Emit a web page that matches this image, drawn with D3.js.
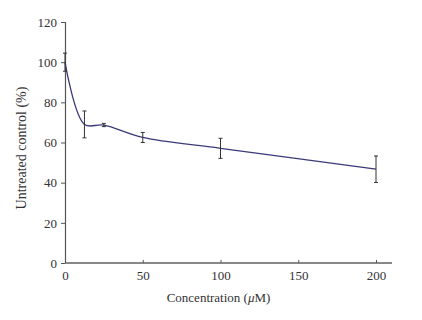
<!DOCTYPE html>
<html>
<head>
<meta charset="utf-8">
<script src="https://cdn.jsdelivr.net/npm/d3@7"></script>
<style>
  body { margin: 0; background: #fff; }
  text { font-family: "Liberation Serif", "DejaVu Serif", serif; fill: #333; }
</style>
</head>
<body>
<div id="chart"></div>
<script>
// dados
const concentrations = [0, 12.5, 25, 50, 100, 200];
const means = [100, 69.0, 68.7, 62.5, 57.1, 46.7];
const errors = [4.5, 6.7, 0.8, 2.5, 5.0, 6.6];
const xTicks = [0, 50, 100, 150, 200];
const yTicks = [0, 20, 40, 60, 80, 100, 120];

const margin = {top: 22, right: 30, bottom: 57, left: 65};
const width = 422 - margin.left - margin.right;
const height = 320 - margin.top - margin.bottom;

const svg = d3.select("#chart")
    .append("svg")
    .attr("width", 422)
    .attr("height", 320)
    .append("g")
    .attr("transform", `translate(${margin.left},${margin.top})`);

const xScale = d3.scaleLinear().domain([0, 200]).range([0, 311]);
const yScale = d3.scaleLinear().domain([0, 120]).range([height, 0]);

// eixo y
const yAxis = svg.append("g")
    .call(d3.axisLeft(yScale).tickValues(yTicks).tickSize(4).tickPadding(4));
yAxis.select(".domain").attr("stroke", "#555").attr("stroke-width", 1.2);
yAxis.selectAll(".tick line").attr("stroke", "#555");
yAxis.selectAll("text").style("font-size", "13px").attr("fill", "#333");

// eixo x
const xAxis = svg.append("g")
    .attr("transform", `translate(0,${height})`)
    .call(d3.axisBottom(xScale).tickValues(xTicks).tickSize(-3).tickPadding(8).tickSizeOuter(0));
xAxis.select(".domain").attr("d", `M0,0H${width}`).attr("stroke", "#888").attr("stroke-width", 2);
xAxis.selectAll(".tick line").attr("stroke", "#555");
xAxis.selectAll("text").style("font-size", "13px").attr("fill", "#333");

// linha suavizada
const line = d3.line()
    .x((d, i) => xScale(concentrations[i]))
    .y(d => yScale(d))
    .curve(d3.curveCatmullRom.alpha(0.5));

svg.append("path")
    .datum(means)
    .attr("fill", "none")
    .attr("stroke", "#3a3a78")
    .attr("stroke-width", 1.3)
    .attr("d", line);

// barras de erro
const bars = svg.selectAll(".err")
    .data(means)
    .enter()
    .append("g")
    .attr("class", "err")
    .attr("stroke", "#333")
    .attr("stroke-width", 1);

bars.append("line")
    .attr("x1", (d, i) => xScale(concentrations[i]))
    .attr("x2", (d, i) => xScale(concentrations[i]))
    .attr("y1", (d, i) => yScale(d + errors[i]))
    .attr("y2", (d, i) => yScale(d - errors[i]));

bars.append("line")
    .attr("x1", (d, i) => xScale(concentrations[i]) - 2)
    .attr("x2", (d, i) => xScale(concentrations[i]) + 2)
    .attr("y1", (d, i) => yScale(d + errors[i]))
    .attr("y2", (d, i) => yScale(d + errors[i]));

bars.append("line")
    .attr("x1", (d, i) => xScale(concentrations[i]) - 2)
    .attr("x2", (d, i) => xScale(concentrations[i]) + 2)
    .attr("y1", (d, i) => yScale(d - errors[i]))
    .attr("y2", (d, i) => yScale(d - errors[i]));

// rótulos dos eixos
const xLabel = svg.append("text")
    .attr("text-anchor", "middle")
    .attr("x", 153.5)
    .attr("y", height + 39)
    .style("font-size", "13px");
xLabel.append("tspan").text("Concentration (");
xLabel.append("tspan").style("font-style", "italic").text("μ");
xLabel.append("tspan").text("M)");

svg.append("text")
    .attr("text-anchor", "middle")
    .attr("transform", "rotate(-90)")
    .attr("x", -126)
    .attr("y", -39)
    .style("font-size", "14px")
    .text("Untreated control (%)");
</script>
</body>
</html>
